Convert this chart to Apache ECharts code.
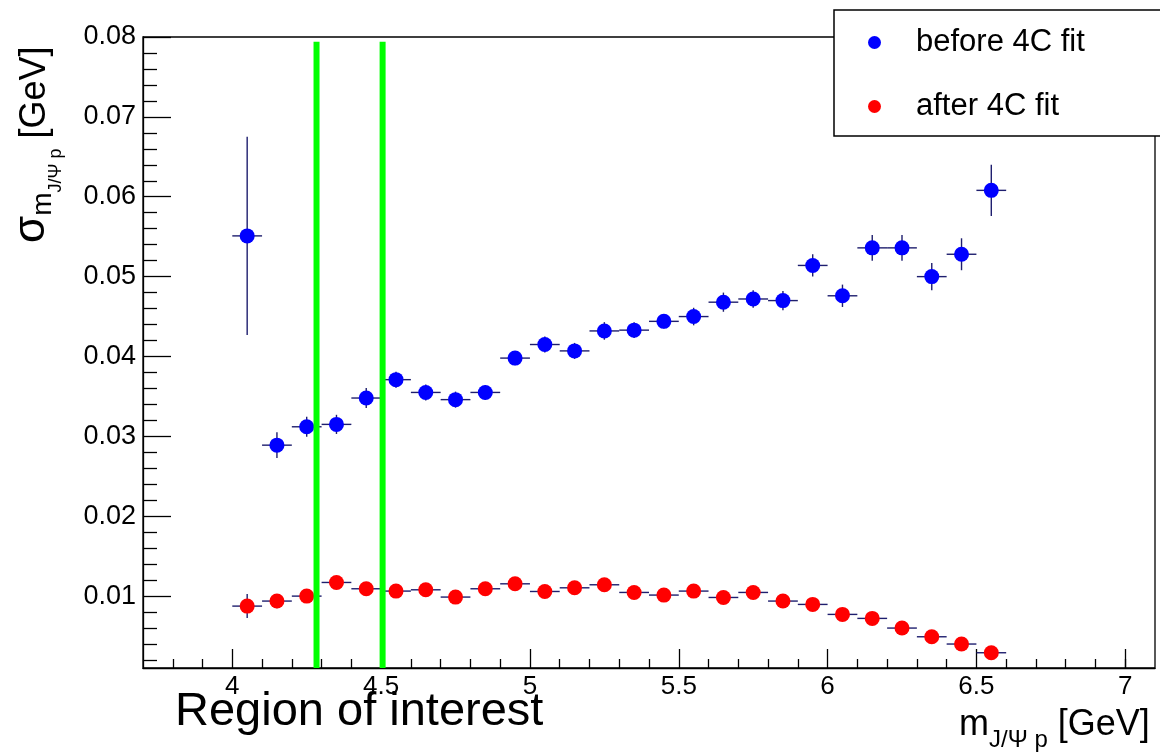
<!DOCTYPE html>
<html>
<head>
<meta charset="utf-8">
<script src="https://cdn.jsdelivr.net/npm/echarts@6/dist/echarts.min.js"></script>
<style>
  html, body { margin: 0; padding: 0; background: #ffffff; }
  #chart { width: 1160px; height: 756px; }
</style>
</head>
<body>
<div id="chart"></div>
<script>
// Bin centres of the J/psi p invariant mass (GeV), 0.1 GeV wide bins
const massBins = [4.05, 4.15, 4.25, 4.35, 4.45, 4.55, 4.65, 4.75, 4.85, 4.95,
                  5.05, 5.15, 5.25, 5.35, 5.45, 5.55, 5.65, 5.75, 5.85, 5.95,
                  6.05, 6.15, 6.25, 6.35, 6.45, 6.55];
const binHalfWidth = 0.05;

// Mass resolution before the kinematic fit (GeV) and its uncertainty
const sigmaBefore = [0.0551, 0.0289, 0.0312, 0.0315, 0.0348, 0.0371, 0.0355, 0.0346, 0.0355, 0.0398,
                     0.0415, 0.0407, 0.0432, 0.0433, 0.0444, 0.0450, 0.0468, 0.0472, 0.0470, 0.0514,
                     0.0476, 0.0536, 0.0536, 0.0500, 0.0528, 0.0608];
const errBefore   = [0.0124, 0.0016, 0.00125, 0.0012, 0.00125, 0.0010, 0.0010, 0.0010, 0.0009, 0.0009,
                     0.0010, 0.0010, 0.0011, 0.0010, 0.0009, 0.0011, 0.0012, 0.0011, 0.0012, 0.0014,
                     0.0014, 0.0016, 0.0016, 0.0017, 0.0020, 0.0032];

// Mass resolution after the 4C fit (GeV) and its uncertainty
const sigmaAfter  = [0.00875, 0.00938, 0.0100, 0.01171, 0.01092, 0.01063, 0.01079, 0.00988, 0.01092, 0.01154,
                     0.01058, 0.01104, 0.01142, 0.01046, 0.01013, 0.01063, 0.00983, 0.01046, 0.00938, 0.00896,
                     0.00771, 0.00721, 0.0060, 0.00491, 0.0040, 0.00291];
const errAfter    = [0.0015, 0.0009, 0.0008, 0.0007, 0.0007, 0.0007, 0.0007, 0.0007, 0.0007, 0.0007,
                     0.0007, 0.0007, 0.0007, 0.0007, 0.0007, 0.0007, 0.0007, 0.0007, 0.0007, 0.0007,
                     0.0007, 0.0007, 0.0007, 0.0007, 0.0007, 0.0007];

// Edges of the highlighted mass window (GeV) and the top of the marker lines
const roiEdges = [4.283, 4.505];
const roiTop = 0.0794;

// Axis ranges and tick positions
const xRange = [3.7, 7.1];
const yRange = [0.001, 0.08];
const xMajorTicks = [4, 4.5, 5, 5.5, 6, 6.5, 7];
const xMinorTicks = [3.8, 3.9, 4.1, 4.2, 4.3, 4.4, 4.6, 4.7, 4.8, 4.9,
                     5.1, 5.2, 5.3, 5.4, 5.6, 5.7, 5.8, 5.9, 6.1, 6.2, 6.3, 6.4,
                     6.6, 6.7, 6.8, 6.9, 7.0];
const xTickLabels = ['4', '4.5', '5', '5.5', '6', '6.5', '7'];
const yMajorTicks = [0.01, 0.02, 0.03, 0.04, 0.05, 0.06, 0.07, 0.08];
const yMinorTicks = [0.002, 0.004, 0.006, 0.008, 0.012, 0.014, 0.016, 0.018,
                     0.022, 0.024, 0.026, 0.028, 0.032, 0.034, 0.036, 0.038,
                     0.042, 0.044, 0.046, 0.048, 0.052, 0.054, 0.056, 0.058,
                     0.062, 0.064, 0.066, 0.068, 0.072, 0.074, 0.076, 0.078];
const yTickLabels = ['0.01', '0.02', '0.03', '0.04', '0.05', '0.06', '0.07', '0.08'];

const seriesNames = ['before 4C fit', 'after 4C fit'];

const FONT = '"Liberation Sans", Arial, Helvetica, sans-serif';
const errColor = '#1e1e6e';

const chart = echarts.init(document.getElementById('chart'), null, { renderer: 'canvas' });

// width helper for laying out sub/superscript text pieces
const measureCtx = document.createElement('canvas').getContext('2d');
function textWidth(t, size) {
  measureCtx.font = size + 'px ' + FONT;
  return measureCtx.measureText(t).width;
}
// canvas 'middle' sits ~0.347 em above the alphabetic baseline for this font
const MID = 0.347;

function horizontalPieces(pieces, x0, baseline) {
  const out = [];
  let x = x0;
  pieces.forEach(p => {
    out.push({
      type: 'text', x: x, y: baseline + p.drop - MID * p.size, silent: true,
      style: { text: p.t, fontSize: p.size, fontFamily: FONT, fill: '#000', align: 'left', verticalAlign: 'middle' }
    });
    x += textWidth(p.t, p.size);
  });
  return out;
}
function verticalPieces(pieces, y0, baselineX) {
  const out = [];
  let y = y0;
  pieces.forEach(p => {
    out.push({
      type: 'text', x: baselineX + p.drop - MID * p.size, y: y, rotation: Math.PI / 2, silent: true,
      style: { text: p.t, fontSize: p.size, fontFamily: FONT, fill: '#000', align: 'left', verticalAlign: 'middle' }
    });
    y -= textWidth(p.t, p.size);
  });
  return out;
}

function makeErrorRows(ys, es) {
  return massBins.map((x, i) => [x, ys[i], es[i]]);
}
function errorBarItem(params, api) {
  const x = api.value(0), y = api.value(1), e = api.value(2);
  const L = api.coord([x - binHalfWidth, y]);
  const R = api.coord([x + binHalfWidth, y]);
  const T = api.coord([x, y + e]);
  const B = api.coord([x, y - e]);
  const style = { stroke: errColor, lineWidth: 1.4 };
  return {
    type: 'group',
    children: [
      { type: 'line', shape: { x1: L[0], y1: L[1], x2: R[0], y2: R[1] }, style: style },
      { type: 'line', shape: { x1: T[0], y1: T[1], x2: B[0], y2: B[1] }, style: style }
    ]
  };
}
function roiLineItem(params, api) {
  const x = api.value(0);
  const top = api.coord([x, roiTop]);
  const bottom = api.coord([x, yRange[0]]);
  return {
    type: 'line',
    shape: { x1: top[0], y1: top[1], x2: bottom[0], y2: bottom[1] },
    style: { stroke: '#00ff00', lineWidth: 6 }
  };
}

const axisLineStyle = { color: '#000', width: 1.3 };

const option = {
  animation: false,
  backgroundColor: '#ffffff',
  textStyle: { fontFamily: FONT },
  grid: {
    left: 143, top: 37, right: 5, bottom: 88,
    show: true, borderColor: '#000', borderWidth: 1.3, backgroundColor: 'transparent'
  },
  legend: {
    data: seriesNames,
    orient: 'vertical',
    left: 834, top: 10,
    padding: [17, 110, 14, 34],
    itemGap: 33,
    itemWidth: 13, itemHeight: 13,
    icon: 'circle',
    selectedMode: false,
    backgroundColor: '#ffffff',
    borderColor: '#000', borderWidth: 1.5,
    textStyle: { fontSize: 31, color: '#000', fontFamily: FONT, padding: [0, 0, 0, 30] }
  },
  xAxis: [
    {
      type: 'value', min: xRange[0], max: xRange[1],
      axisLine: { lineStyle: axisLineStyle },
      axisTick: { inside: true, length: 19, customValues: xMajorTicks, lineStyle: { color: '#000', width: 1.3 } },
      axisLabel: {
        customValues: xMajorTicks, margin: 6, fontSize: 26, color: '#000', fontFamily: FONT,
        formatter: v => xTickLabels[xMajorTicks.indexOf(v)]
      },
      splitLine: { show: false }
    },
    {
      type: 'value', min: xRange[0], max: xRange[1], position: 'bottom',
      axisLine: { show: false },
      axisTick: { inside: true, length: 9, customValues: xMinorTicks, lineStyle: { color: '#000', width: 1.3 } },
      axisLabel: { show: false },
      splitLine: { show: false }
    }
  ],
  yAxis: [
    {
      type: 'value', min: yRange[0], max: yRange[1],
      axisLine: { show: true, lineStyle: axisLineStyle },
      axisTick: { show: true, inside: true, length: 28, customValues: yMajorTicks, lineStyle: { color: '#000', width: 1.3 } },
      axisLabel: {
        customValues: yMajorTicks, margin: 7, fontSize: 27, color: '#000', fontFamily: FONT,
        formatter: v => yTickLabels[yMajorTicks.indexOf(v)]
      },
      splitLine: { show: false }
    },
    {
      type: 'value', min: yRange[0], max: yRange[1], position: 'left',
      axisLine: { show: false },
      axisTick: { show: true, inside: true, length: 14, customValues: yMinorTicks, lineStyle: { color: '#000', width: 1.3 } },
      axisLabel: { show: false },
      splitLine: { show: false }
    }
  ],
  series: [
    {
      type: 'custom', name: 'errBefore', renderItem: errorBarItem,
      data: makeErrorRows(sigmaBefore, errBefore), encode: { x: 0, y: 1 }, z: 2, silent: true
    },
    {
      type: 'custom', name: 'errAfter', renderItem: errorBarItem,
      data: makeErrorRows(sigmaAfter, errAfter), encode: { x: 0, y: 1 }, z: 2, silent: true
    },
    {
      type: 'scatter', name: seriesNames[0], symbol: 'circle', symbolSize: 15,
      itemStyle: { color: '#0000ff', opacity: 1 }, z: 3,
      data: massBins.map((x, i) => [x, sigmaBefore[i]])
    },
    {
      type: 'scatter', name: seriesNames[1], symbol: 'circle', symbolSize: 15,
      itemStyle: { color: '#ff0000', opacity: 1 }, z: 3,
      data: massBins.map((x, i) => [x, sigmaAfter[i]])
    },
    {
      type: 'custom', name: 'roi', renderItem: roiLineItem,
      data: roiEdges.map(x => [x]), encode: { x: 0 }, z: 4, silent: true
    }
  ],
  graphic: [
    // x-axis title: m_{J/Psi p} [GeV]
    ...horizontalPieces([
      { t: 'm', size: 36, drop: 0 },
      { t: 'J/Ψ p', size: 24, drop: 11 },
      { t: ' [GeV]', size: 36, drop: 0 }
    ], 959, 738),
    // y-axis title: sigma_{m_{J/Psi p}} [GeV], reading bottom to top
    ...verticalPieces([
      { t: 'σ', size: 44, drop: 0 },
      { t: 'm', size: 28, drop: 6 },
      { t: 'J/Ψ p', size: 18, drop: 15 },
      { t: ' [GeV]', size: 36, drop: 1 }
    ], 243, 47),
    {
      type: 'text', x: 175, y: 728 - MID * 47, silent: true,
      style: { text: 'Region of interest', fontSize: 47, fontFamily: FONT, fill: '#000', align: 'left', verticalAlign: 'middle' }
    }
  ]
};

chart.setOption(option);
</script>
</body>
</html>
